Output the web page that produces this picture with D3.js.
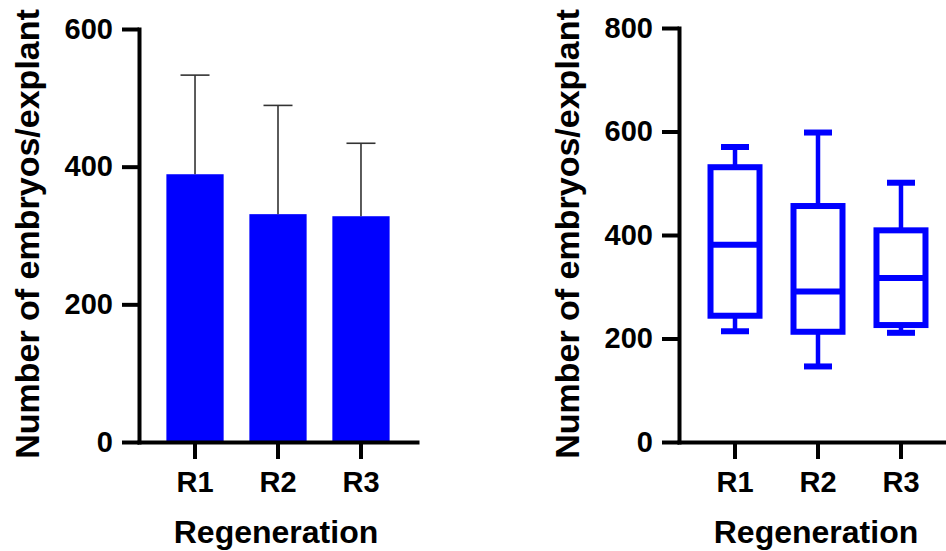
<!DOCTYPE html>
<html>
<head>
<meta charset="utf-8">
<script src="https://cdn.jsdelivr.net/npm/d3@7"></script>
<style>
body { margin: 0; background: #fff; }
text { font-family: Arial, "Liberation Sans", sans-serif; font-weight: bold; fill: #000; }
</style>
</head>
<body>
<svg id="chart" width="946" height="551"></svg>
<script>
var categories = ["R1", "R2", "R3"];

// left panel: mean with upper SD
var barMeans = [389, 331, 328];
var barSD = [144, 158, 106];
var leftTicks = [0, 200, 400, 600];

// right panel: box and whiskers
var boxMax = [570, 598, 501];
var boxQ3 = [531, 456, 409];
var boxMedian = [381, 291, 317];
var boxQ1 = [244, 213, 226];
var boxMin = [214, 146, 211];
var rightTicks = [0, 200, 400, 600, 800];

var blue = "#0000ff";
var svg = d3.select("#chart");

var makePanel = function(offset, yMax, ticks) {
    var x = d3.scaleBand()
        .domain(categories)
        .range([139 + offset, 417 + offset])
        .paddingInner(0.31)
        .paddingOuter(0.33);
    var y = d3.scaleLinear()
        .domain([0, yMax])
        .range([442, 29]);
    return {x: x, y: y, offset: offset, ticks: ticks};
};

var drawAxes = function(p) {
    var yAxis = d3.axisLeft(p.y).tickValues(p.ticks).tickSize(17).tickSizeOuter(0).tickPadding(9);
    var xAxis = d3.axisBottom(p.x).tickSize(17).tickSizeOuter(0).tickPadding(12);

    var gx = svg.append("g")
        .attr("transform", "translate(0,442)")
        .call(xAxis);
    var gy = svg.append("g")
        .attr("transform", "translate(" + (139 + p.offset) + ",0)")
        .call(yAxis);

    [gx, gy].forEach(function(g) {
        g.select(".domain").attr("stroke", "#000").attr("stroke-width", 4).attr("stroke-linecap", "square");
        g.selectAll(".tick line").attr("stroke", "#000").attr("stroke-width", 4);
        g.selectAll(".tick text").style("font-size", "29px").attr("fill", "#000");
    });

    svg.append("text")
        .attr("transform", "translate(" + (39 + p.offset) + ",234) rotate(-90)")
        .attr("text-anchor", "middle")
        .style("font-size", "34px")
        .text("Number of embryos/explant");

    svg.append("text")
        .attr("x", 276 + p.offset)
        .attr("y", 543)
        .attr("text-anchor", "middle")
        .style("font-size", "32px")
        .text("Regeneration");
};

// left: bars
var left = makePanel(0, 600, leftTicks);
var bw = left.x.bandwidth();

svg.append("g").selectAll("rect")
    .data(categories)
    .enter()
    .append("rect")
    .attr("x", function(d) { return left.x(d); })
    .attr("y", function(d, i) { return left.y(barMeans[i]); })
    .attr("width", bw)
    .attr("height", function(d, i) { return left.y(0) - left.y(barMeans[i]); })
    .attr("fill", blue);

var err = svg.append("g").attr("stroke", "#333").attr("stroke-width", 1.6);
categories.forEach(function(d, i) {
    var cx = left.x(d) + bw / 2;
    var top = left.y(barMeans[i] + barSD[i]);
    err.append("line")
        .attr("x1", cx).attr("x2", cx)
        .attr("y1", left.y(barMeans[i])).attr("y2", top);
    err.append("line")
        .attr("x1", cx - 14.5).attr("x2", cx + 14.5)
        .attr("y1", top).attr("y2", top);
});
drawAxes(left);

// right: boxes
var right = makePanel(540, 800, rightTicks);
right.y.range([442, 28]);
var rbw = right.x.bandwidth();

var boxes = svg.append("g").attr("stroke", blue).attr("fill", "none");
categories.forEach(function(d, i) {
    var cx = right.x(d) + rbw / 2;
    var half = 24.5;
    var cap = 14;
    var y = right.y;
    // whiskers
    boxes.append("line").attr("x1", cx).attr("x2", cx)
        .attr("y1", y(boxQ3[i])).attr("y2", y(boxMax[i])).attr("stroke-width", 4.5);
    boxes.append("line").attr("x1", cx).attr("x2", cx)
        .attr("y1", y(boxQ1[i])).attr("y2", y(boxMin[i])).attr("stroke-width", 4.5);
    boxes.append("line").attr("x1", cx - cap).attr("x2", cx + cap)
        .attr("y1", y(boxMax[i])).attr("y2", y(boxMax[i])).attr("stroke-width", 6);
    boxes.append("line").attr("x1", cx - cap).attr("x2", cx + cap)
        .attr("y1", y(boxMin[i])).attr("y2", y(boxMin[i])).attr("stroke-width", 6);
    // box
    boxes.append("rect")
        .attr("x", cx - half)
        .attr("y", y(boxQ3[i]))
        .attr("width", half * 2)
        .attr("height", y(boxQ1[i]) - y(boxQ3[i]))
        .attr("fill", "#fff")
        .attr("stroke-width", 6);
    boxes.append("line").attr("x1", cx - half).attr("x2", cx + half)
        .attr("y1", y(boxMedian[i])).attr("y2", y(boxMedian[i])).attr("stroke-width", 6);
});
drawAxes(right);
</script>
</body>
</html>
